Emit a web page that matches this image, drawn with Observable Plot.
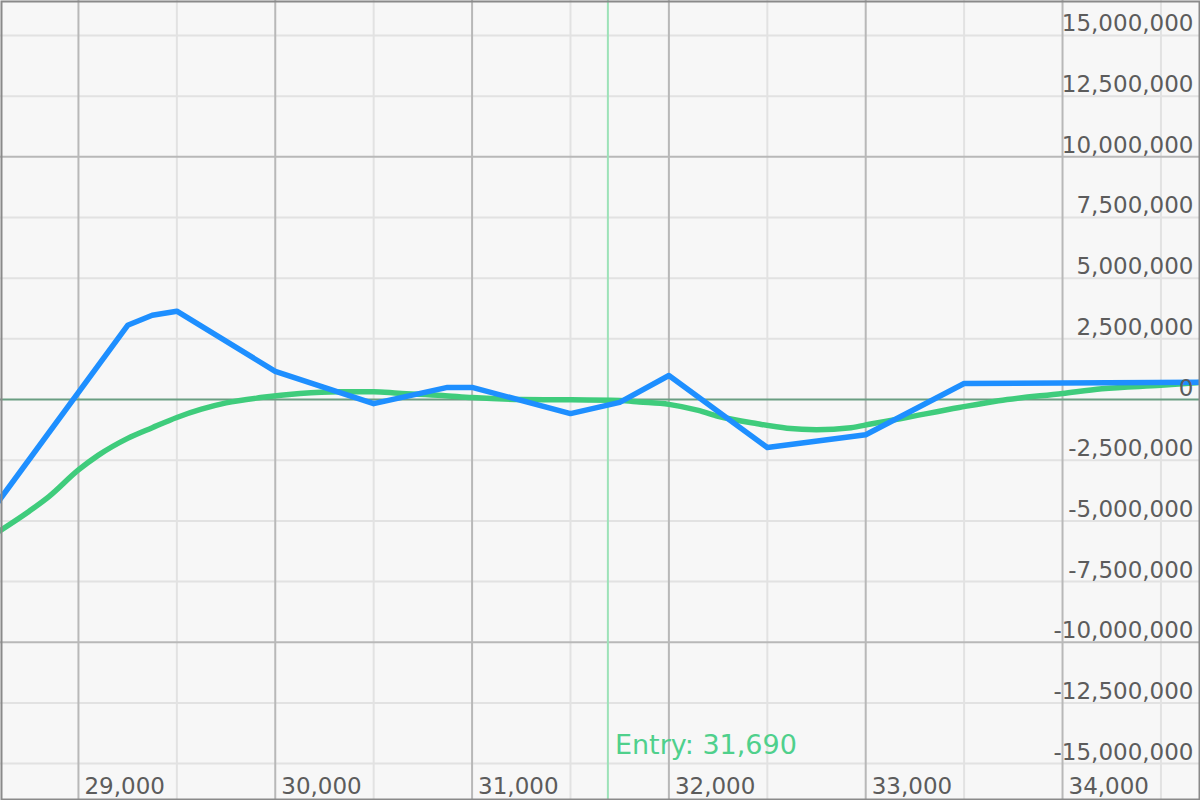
<!DOCTYPE html>
<html>
<head>
<meta charset="utf-8">
<script src="https://cdn.jsdelivr.net/npm/d3@7"></script>
<script src="https://cdn.jsdelivr.net/npm/@observablehq/plot@0.6"></script>
<style>
  html, body { margin: 0; padding: 0; background: #f7f7f7; }
  #chart svg { display: block; }
</style>
</head>
<body>
<div id="chart"></div>
<script>
// ---- Data ----
const bluePrice = [28500, 29250, 29375, 29500, 30000, 30500, 30875, 31000, 31500, 31750, 32000, 32500, 33000, 33500, 34750];
const bluePnl   = [-5230000, 3060000, 3470000, 3640000, 1160000, -170000, 500000, 500000, -580000, -120000, 990000, -1980000, -1450000, 660000, 710000];

const greenPrice = [28600, 28750, 28850, 29000, 29100, 29250, 29375, 29500, 29625, 29750, 29925, 30125, 30325, 30500, 30625, 30850, 31000, 31250, 31450, 31750, 31850, 32000, 32150, 32250, 32450, 32600, 32750, 32925, 33025, 33175, 33475, 33675, 34000, 34200, 34500, 34700];
const greenPnl   = [-5410000, -4600000, -4000000, -2900000, -2300000, -1600000, -1160000, -740000, -400000, -140000, 80000, 250000, 320000, 320000, 260000, 170000, 80000, 0, -10000, -40000, -100000, -200000, -450000, -690000, -1000000, -1180000, -1240000, -1160000, -1010000, -790000, -330000, -50000, 250000, 440000, 590000, 700000];

const entryPrice = 31690;
const entryLabel = "Entry: 31,690";

const xMajorTicks = [29000, 30000, 31000, 32000, 33000, 34000];
const xMinorTicks = [29500, 30500, 31500, 32500, 33500, 34500];
const yTicks = [-15000000, -12500000, -10000000, -7500000, -5000000, -2500000, 0, 2500000, 5000000, 7500000, 10000000, 12500000, 15000000];
const yMajorTicks = [-10000000, 10000000];

const xDomain = [28604, 34701];
const yDomain = [-16520000, 16440000];

// ---- Build ----
const blue = bluePrice.map((p, i) => ({price: p, pnl: bluePnl[i]}));
const green = greenPrice.map((p, i) => ({price: p, pnl: greenPnl[i]}));
const fmt = d3.format(",");
const label = v => (v < 0 ? "-" : "") + fmt(Math.abs(v));
const FONT = "DejaVu Sans, Verdana, sans-serif";

const chart = Plot.plot({
  width: 1200,
  height: 800,
  margin: 0,
  x: {domain: xDomain, axis: null},
  y: {domain: yDomain, axis: null},
  style: {background: "#f7f7f7", fontFamily: FONT, overflow: "hidden"},
  marks: [
    Plot.ruleX(xMinorTicks, {stroke: "#e2e2e2", strokeWidth: 2}),
    Plot.ruleY(yTicks.filter(v => v !== 0 && !yMajorTicks.includes(v)), {stroke: "#e2e2e2", strokeWidth: 2}),
    Plot.ruleX(xMajorTicks, {stroke: "#b8b8b8", strokeWidth: 2}),
    Plot.ruleY(yMajorTicks, {stroke: "#b8b8b8", strokeWidth: 2}),
    Plot.ruleY([0], {stroke: "#6a9e82", strokeWidth: 2}),
    Plot.ruleX([entryPrice], {stroke: "#9de2b8", strokeWidth: 2}),
    Plot.line(green, {x: "price", y: "pnl", stroke: "#3fcc7c", strokeWidth: 5.5, curve: "monotone-x", clip: true}),
    Plot.line(blue, {x: "price", y: "pnl", stroke: "#1e8fff", strokeWidth: 5.5, clip: true}),
    Plot.text(yTicks, {
      y: d => d, text: d => label(d), frameAnchor: "right", textAnchor: "end",
      lineAnchor: "bottom", dx: -7, dy: -4, fontSize: 23, fill: "#5c5c5c"
    }),
    Plot.text(xMajorTicks, {
      x: d => d, text: d => label(d), frameAnchor: "bottom", textAnchor: "start",
      lineAnchor: "bottom", dx: 6, dy: -7, fontSize: 23, fill: "#5c5c5c"
    }),
    Plot.text([entryLabel], {
      x: () => entryPrice, text: d => d, frameAnchor: "bottom", textAnchor: "start",
      lineAnchor: "bottom", dx: 7, dy: -47, fontSize: 27, fill: "#4fd08c"
    }),
    Plot.frame({stroke: "#8a8a8a", strokeWidth: 2, inset: 1})
  ]
});
document.getElementById("chart").appendChild(chart);
</script>
</body>
</html>
